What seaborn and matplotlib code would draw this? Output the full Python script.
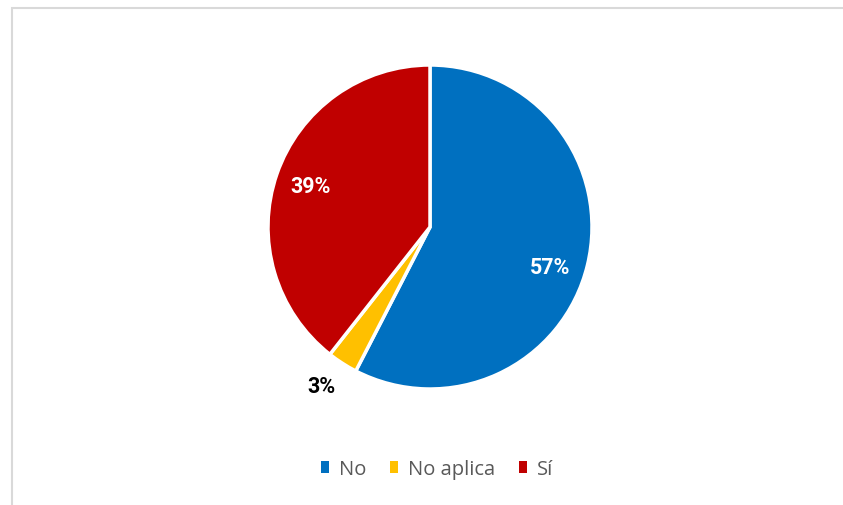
import numpy as np
import matplotlib
matplotlib.use("Agg")
import matplotlib.pyplot as plt
from matplotlib.patches import Rectangle
import seaborn as sns

# Survey answers
categories = ["No", "No aplica", "Sí"]
values = [57, 3, 39]
colors = ["#0070C0", "#FFC000", "#C00000"]

sns.set_theme(style="white")
plt.rcParams["font.family"] = ["Open Sans", "DejaVu Sans"]
palette = sns.color_palette(colors)

W, H = 843, 506
fig = plt.figure(figsize=(W / 100, H / 100), dpi=100)
fig.patch.set_facecolor("white")

# chart area frame (top and left edges visible)
fig.patches.append(Rectangle((11.5 / W, -0.1), 1.2, 1.1 - 8.5 / H,
                             transform=fig.transFigure, fill=False,
                             edgecolor="#D9D9D9", linewidth=1.5))

cx, cy, r = 430, 228, 162
ax = fig.add_axes([(cx - r) / W, 1 - (cy + r) / H, 2 * r / W, 2 * r / H])
wedges, _ = ax.pie(values, colors=palette, startangle=90, counterclock=False,
                   radius=1.0,
                   wedgeprops=dict(edgecolor="white", linewidth=2.5))
ax.set_xlim(-1, 1)
ax.set_ylim(-1, 1)
ax.set_aspect("equal")
ax.axis("off")

# (radial distance, angular nudge in degrees, colour) for each label
label_cfg = [(0.78, -5, "white"), (1.19, -1.5, "black"), (0.78, 0, "white")]
for w, v, (dist, nudge, col) in zip(wedges, values, label_cfg):
    mid = np.deg2rad((w.theta1 + w.theta2) / 2 + nudge)
    ax.text(dist * np.cos(mid), dist * np.sin(mid), f"{v}%",
            ha="center", va="center", fontsize=15.5, fontweight="bold",
            family=["Roboto", "DejaVu Sans"], color=col, clip_on=False)

handles = [Rectangle((0, 0), 1, 1, facecolor=c, edgecolor="none") for c in palette]
leg = fig.legend(handles, categories, loc="center", ncol=3,
                 bbox_to_anchor=(437 / W, 1 - 470 / H), frameon=False,
                 fontsize=14.5, handlelength=0.38, handleheight=0.55,
                 handletextpad=0.5, columnspacing=1.2)
for t in leg.get_texts():
    t.set_color("#595959")

fig.savefig("out.png", dpi=100, facecolor="white")
